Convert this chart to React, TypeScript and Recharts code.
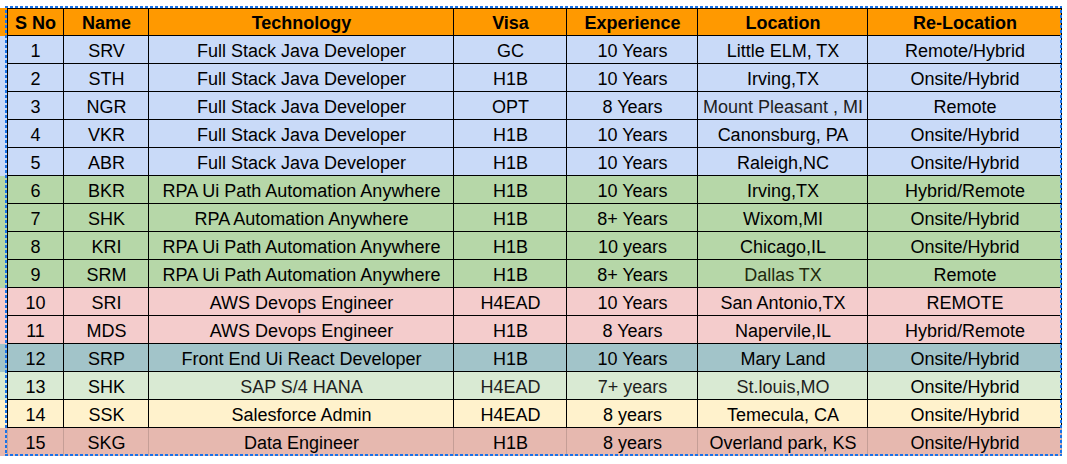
import React from "react";
import { BarChart, Bar, XAxis, YAxis } from "recharts";

// ---- table content ----
const headers = ["S No", "Name", "Technology", "Visa", "Experience", "Location", "Re-Location"];
const serialNos = ["1", "2", "3", "4", "5", "6", "7", "8", "9", "10", "11", "12", "13", "14", "15"];
const names = ["SRV", "STH", "NGR", "VKR", "ABR", "BKR", "SHK", "KRI", "SRM", "SRI", "MDS", "SRP", "SHK", "SSK", "SKG"];
const technologies = [
  "Full Stack Java Developer",
  "Full Stack Java Developer",
  "Full Stack Java Developer",
  "Full Stack Java Developer",
  "Full Stack Java Developer",
  "RPA Ui Path Automation Anywhere",
  "RPA Automation Anywhere",
  "RPA Ui Path Automation Anywhere",
  "RPA Ui Path Automation Anywhere",
  "AWS Devops Engineer",
  "AWS Devops Engineer",
  "Front End Ui React Developer",
  "SAP S/4 HANA",
  "Salesforce Admin",
  "Data Engineer",
];
const visas = ["GC", "H1B", "OPT", "H1B", "H1B", "H1B", "H1B", "H1B", "H1B", "H4EAD", "H1B", "H1B", "H4EAD", "H4EAD", "H1B"];
const experiences = [
  "10 Years", "10 Years", "8 Years", "10 Years", "10 Years", "10 Years", "8+ Years", "10 years",
  "8+ Years", "10 Years", "8 Years", "10 Years", "7+ years", "8 years", "8 years",
];
const locations = [
  "Little ELM, TX", "Irving,TX", "Mount Pleasant , MI", "Canonsburg, PA", "Raleigh,NC", "Irving,TX",
  "Wixom,MI", "Chicago,IL", "Dallas TX", "San Antonio,TX", "Napervile,IL", "Mary Land", "St.louis,MO",
  "Temecula, CA", "Overland park, KS",
];
const relocations = [
  "Remote/Hybrid", "Onsite/Hybrid", "Remote", "Onsite/Hybrid", "Onsite/Hybrid", "Hybrid/Remote",
  "Onsite/Hybrid", "Onsite/Hybrid", "Remote", "REMOTE", "Hybrid/Remote", "Onsite/Hybrid",
  "Onsite/Hybrid", "Onsite/Hybrid", "Onsite/Hybrid",
];

// ---- layout / style constants ----
const COL_WIDTHS = [57, 85, 305, 113, 131, 170, 194];
const LEFT_OFFSET = 7;
const HEADER_FILL = "#ff9900";
const ROW_FILLS = [
  "#c9daf8", "#c9daf8", "#c9daf8", "#c9daf8", "#c9daf8",
  "#b6d7a8", "#b6d7a8", "#b6d7a8", "#b6d7a8",
  "#f4cccc", "#f4cccc",
  "#a2c4c9",
  "#d9ead3",
  "#fff2cc",
  "#e6b8af",
];
const TEXT_COLOR_OVERRIDES: Record<string, string> = {
  "3-5": "#1e1e1e",
  "9-5": "#1f2a0e",
  "13-2": "#1e1e1e",
  "13-3": "#1e1e1e",
  "13-4": "#1e1e1e",
  "13-5": "#1e1e1e",
};
const FONT = "'Liberation Sans', Arial, sans-serif";
const SEL = "#1a73e8";
const DASH = "3 2";
const DASH_PERIOD = 5;

type Row = Record<string, any>;

const columns = [serialNos, names, technologies, visas, experiences, locations, relocations];

const tableData: Row[] = [
  {
    id: "header",
    off: LEFT_OFFSET,
    cells: headers,
    fill: HEADER_FILL,
    header: true,
    last: false,
    ...Object.fromEntries(COL_WIDTHS.map((w, i) => [`c${i}`, w])),
  },
  ...serialNos.map((_, r) => ({
    id: `r${r + 1}`,
    off: LEFT_OFFSET,
    cells: columns.map((col) => col[r]),
    fill: ROW_FILLS[r],
    header: false,
    last: r === serialNos.length - 1,
    rowNo: r + 1,
    ...Object.fromEntries(COL_WIDTHS.map((w, i) => [`c${i}`, w])),
  })),
];

const lastCol = COL_WIDTHS.length - 1;

const makeCell = (col: number) => (props: any) => {
  const { x, y, width, height, index } = props;
  const row: Row = tableData[index] ?? props.payload;
  const right = x + width - 0.5;
  const bottom = y + height - 0.5;
  const vStroke = row.last ? "rgba(0,0,0,0.14)" : "#000";
  const key = `${row.rowNo}-${col}`;
  const color = TEXT_COLOR_OVERRIDES[key] ?? "#000";
  const selLeft = x - 1;
  const selTop = y - 1;
  const selRight = x + width - 1;
  const selBottom = y + height - 1;
  return (
    <g>
      <rect x={x} y={y} width={width} height={height} fill={row.fill} />
      <line x1={right} y1={y} x2={right} y2={y + height} stroke={vStroke} strokeWidth={1} />
      {col === 0 && <line x1={x + 0.5} y1={y} x2={x + 0.5} y2={y + height} stroke={vStroke} strokeWidth={1} />}
      {!row.last && <line x1={x} y1={bottom} x2={x + width} y2={bottom} stroke="#000" strokeWidth={1} />}
      {row.header && <line x1={x} y1={y + 0.5} x2={x + width} y2={y + 0.5} stroke="#000" strokeWidth={1} />}
      <text
        x={x + width / 2}
        y={y + height / 2 + 6.5}
        textAnchor="middle"
        fontFamily={FONT}
        fontSize={18}
        fontWeight={row.header ? 700 : 400}
        fill={color}
      >
        {row.cells[col]}
      </text>
      {col === 0 && (
        <line x1={selLeft} y1={y - 2} x2={selLeft} y2={y + height} stroke={SEL} strokeWidth={2}
          strokeDasharray={DASH} strokeDashoffset={(y - 2) % DASH_PERIOD} />
      )}
      {col === lastCol && (
        <line x1={selRight} y1={y - 2} x2={selRight} y2={y + height} stroke={SEL} strokeWidth={2}
          strokeDasharray={DASH} strokeDashoffset={(y - 2) % DASH_PERIOD} />
      )}
      {row.header && (
        <line x1={x - 2} y1={selTop} x2={x + width} y2={selTop} stroke={SEL} strokeWidth={2}
          strokeDasharray={DASH} strokeDashoffset={(x - 2) % DASH_PERIOD} />
      )}
      {row.last && (
        <line x1={x - 2} y1={selBottom} x2={x + width} y2={selBottom} stroke={SEL} strokeWidth={2}
          strokeDasharray={DASH} strokeDashoffset={(x - 2) % DASH_PERIOD} />
      )}
    </g>
  );
};

export default function App() {
  return (
    <div style={{ position: "absolute", left: 0, top: 0, width: 1067, height: 464, background: "#fff" }}>
      <BarChart
        width={1067}
        height={464}
        data={tableData}
        layout="vertical"
        margin={{ top: 8, right: 0, bottom: 8, left: 0 }}
        barCategoryGap={0}
        barGap={0}
      >
        <XAxis type="number" domain={[0, 1067]} hide allowDataOverflow />
        <YAxis type="category" dataKey="id" hide />
        <Bar dataKey="off" stackId="t" fill="transparent" isAnimationActive={false} />
        {COL_WIDTHS.map((_, i) => (
          <Bar key={i} dataKey={`c${i}`} stackId="t" shape={makeCell(i)} isAnimationActive={false} />
        ))}
      </BarChart>
    </div>
  );
}
